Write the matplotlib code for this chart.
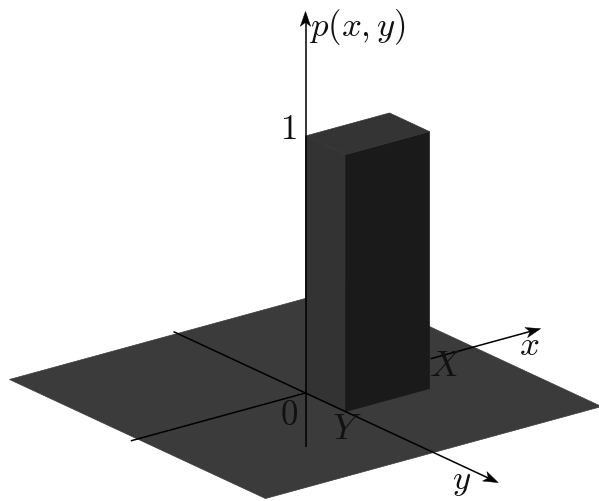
import matplotlib
matplotlib.use("Agg")
import matplotlib.pyplot as plt
from matplotlib.patches import Polygon
import numpy as np

plt.rcParams['mathtext.fontset'] = 'cm'

# Data (in the chart's own units)
plane_x = [-2.0, 2.0]
plane_y = [-3.2, 3.2]
box_x = [0.0, 1.0]
box_y = [0.0, 1.0]
box_height = 1.0
x_axis_range = [-2.08, 2.8]
x_axis_hidden = [0.0, 1.49]
y_axis_range = [-3.3, 4.82]
z_axis_range = [-0.21, 1.485]

# Oblique projection from chart units to pixels
ORIGIN = np.array([305.5, 394.0])
UX = np.array([84.0, -23.0])
UY = np.array([40.0, 18.6])
UZ = np.array([0.0, -257.0])


def proj(x, y, z=0.0):
    return tuple(ORIGIN + x * UX + y * UY + z * UZ)


fig = plt.figure(figsize=(5.99, 5.02), dpi=100)
ax = fig.add_axes([0, 0, 1, 1])
ax.set_xlim(0, 599)
ax.set_ylim(502, 0)
ax.axis('off')

PLANE = '#3b3b3b'
LEFT = '#333333'
RIGHT = '#1a1a1a'
TOP = '#343434'


def face(points, color, z):
    ax.add_patch(Polygon(points, closed=True, facecolor=color, edgecolor=color,
                         linewidth=0.5, zorder=z))


x0, x1 = plane_x
y0, y1 = plane_y
face([proj(x0, y0), proj(x1, y0), proj(x1, y1), proj(x0, y1)], PLANE, 1)

bx0, bx1 = box_x
by0, by1 = box_y
h = box_height
face([proj(bx0, by0), proj(bx0, by1), proj(bx0, by1, h), proj(bx0, by0, h)], LEFT, 2)
face([proj(bx0, by1), proj(bx1, by1), proj(bx1, by1, h), proj(bx0, by1, h)], RIGHT, 2)
face([proj(bx0, by0, h), proj(bx1, by0, h), proj(bx1, by1, h), proj(bx0, by1, h)], TOP, 2)


def line(a, b, z=3):
    ax.plot([a[0], b[0]], [a[1], b[1]], color='black', lw=1.1, zorder=z,
            solid_capstyle='butt')


def arrow(a, b):
    """Line from a to b ending in a stealth-shaped head."""
    a, b = np.array(a), np.array(b)
    d = (b - a) / np.linalg.norm(b - a)
    n = np.array([-d[1], d[0]])
    L, W, notch = 15.0, 5.2, 11.0
    head = [b, b - L * d + W * n, b - notch * d, b - L * d - W * n]
    line(a, b - notch * d)
    ax.add_patch(Polygon(head, closed=True, facecolor='black', edgecolor='black',
                         linewidth=0.3, zorder=4))


line(proj(x_axis_range[0], 0), proj(x_axis_hidden[0], 0))
arrow(proj(x_axis_hidden[1], 0), proj(x_axis_range[1], 0))
arrow(proj(0, y_axis_range[0]), proj(0, y_axis_range[1]))
arrow(proj(0, 0, z_axis_range[0]), proj(0, 0, z_axis_range[1]))

labels = [
    (357.5, 27, r'$p(x,y)$', 25),
    (288, 129, r'$1$', 25),
    (289, 415, r'$0$', 25),
    (445, 366, r'$X$', 26),
    (347, 429, r'$Y$', 26),
    (529, 345, r'$x$', 25),
    (462, 481, r'$y$', 25),
]
for tx, ty, s, size in labels:
    ax.text(tx, ty, s, fontsize=size, ha='center', va='center', color='#111111', zorder=5)

fig.savefig('out.png', dpi=100)
